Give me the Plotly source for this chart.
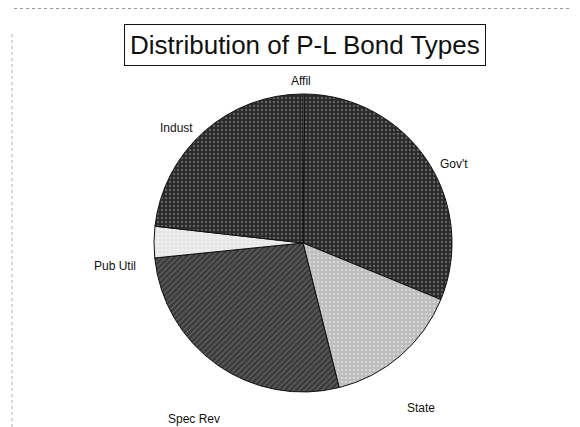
import math
import plotly.graph_objects as go

labels = ["Affil", "Gov't", "State", "Spec Rev", "Pub Util", "Indust"]
values = [0.2, 31.0, 14.9, 27.3, 3.4, 23.2]
colors = ["#e0e0e0", "#282828", "#bcbcbc", "#3a3a3a", "#e6e6e6", "#282828"]
pattern_shapes = ["", ".", ".", "/", ".", "."]
pattern_fg = ["#ffffff", "#9a9a9a", "#efefef", "#8e8e8e", "#ffffff", "#9a9a9a"]

# page body has an 8px margin, so the figure is laid out in shifted coordinates
W, H = 572, 419
cx, cy, r = 295, 235, 149
FONT = "Liberation Sans, Arial, sans-serif"

fig = go.Figure(go.Pie(
    labels=labels, values=values, sort=False, direction="clockwise", rotation=0,
    marker=dict(colors=colors, line=dict(color="#111111", width=1),
                pattern=dict(shape=pattern_shapes, fgcolor=pattern_fg, bgcolor=colors,
                             fillmode="overlay", size=4, solidity=0.3)),
    textinfo="none", showlegend=False, hoverinfo="label+value",
    domain=dict(x=[(cx - r) / W, (cx + r) / W], y=[(H - cy - r) / H, (H - cy + r) / H]),
))

# slice labels placed around the pie at each slice's mid angle
annotations = []
total = sum(values)
cum = 0.0
for lab, v in zip(labels, values):
    mid = (cum + v / 2) / total * 2 * math.pi
    cum += v
    px = cx - 3 + 1.24 * r * math.sin(mid)
    py = cy - 1.25 * r * math.cos(mid) + 0.16 * r
    annotations.append(dict(
        text=lab, x=px / W, y=1 - py / H, xref="paper", yref="paper",
        xanchor="center", yanchor="middle", showarrow=False,
        font=dict(family=FONT, size=12, color="#111111"),
    ))

annotations.append(dict(
    text="Distribution of P-L Bond Types", x=297 / W, y=1 - 37 / H,
    xref="paper", yref="paper", xanchor="center", yanchor="middle", showarrow=False,
    font=dict(family=FONT, size=26, color="#111111"),
    bordercolor="#111111", borderwidth=1, borderpad=5, bgcolor="white",
))

fig.update_layout(
    width=W, height=H, margin=dict(l=0, r=0, t=0, b=0),
    paper_bgcolor="white", plot_bgcolor="white",
    annotations=annotations,
    shapes=[
        dict(type="line", xref="paper", yref="paper", x0=6 / W, x1=1, y0=1 - 0.5 / H, y1=1 - 0.5 / H,
             line=dict(color="#999999", width=1, dash="dot")),
        dict(type="line", xref="paper", yref="paper", x0=4 / W, x1=4 / W, y0=0, y1=1 - 25 / H,
             line=dict(color="#b0b0b0", width=1, dash="dot")),
    ],
)

fig.write_html("out.html")
